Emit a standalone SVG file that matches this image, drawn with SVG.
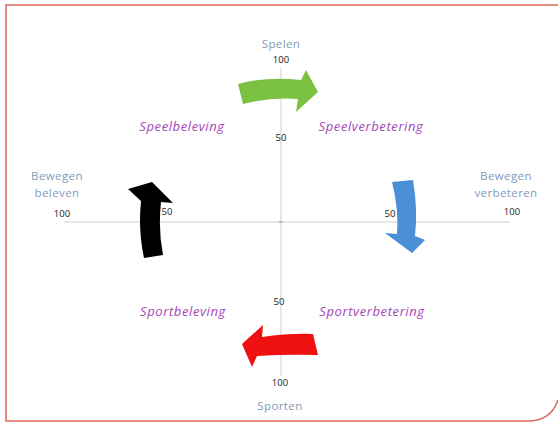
<svg xmlns="http://www.w3.org/2000/svg" width="558" height="426" viewBox="0 0 558 426">
<style>
.ax{font-family:"Open Sans","Liberation Sans",sans-serif;font-size:11.5px;letter-spacing:0.4px;fill:#7f9ab8;text-anchor:middle}
.num{font-family:"Open Sans","Liberation Sans",sans-serif;font-size:9.5px;fill:#222;text-anchor:middle}
.q{font-family:"Open Sans","Liberation Sans",sans-serif;font-size:13px;letter-spacing:0.6px;font-style:italic;fill:#a446b8;text-anchor:middle}
.axis{stroke:#cfcfcf;stroke-width:1;fill:none}
</style>
<rect width="558" height="426" fill="#fff"/>
<path d="M558,5 H6 V421 H528 Q551,421 558,400" fill="none" stroke="#e06a62" stroke-width="1.6"/>
<g id="connectors">
<line class="axis" x1="64" y1="222" x2="510" y2="222"/>
<line class="axis" x1="281" y1="68" x2="281" y2="376"/>
<line x1="279" y1="222" x2="283" y2="222" stroke="#999" stroke-width="1"/>
</g>
<g id="spelen"><text class="ax" x="281" y="48">Spelen</text><text class="num" x="281" y="63">100</text></g>
<g id="n50top"><text class="num" x="281" y="141">50</text></g>
<g id="speelbeleving"><text class="q" x="182" y="131">Speelbeleving</text></g>
<g id="speelverbetering"><text class="q" x="371" y="131">Speelverbetering</text></g>
<g id="bewegenbeleven"><text class="ax" x="57" y="180">Bewegen</text><text class="ax" x="57" y="197">beleven</text><text class="num" x="62" y="217">100</text></g>
<g id="n50left"><text class="num" x="167" y="215">50</text></g>
<g id="n50right"><text class="num" x="390" y="217">50</text></g>
<g id="bewegenverbeteren"><text class="ax" x="506" y="180">Bewegen</text><text class="ax" x="506" y="197">verbeteren</text><text class="num" x="512" y="215">100</text></g>
<g id="n50bottom"><text class="num" x="279" y="305">50</text></g>
<g id="sportbeleving"><text class="q" x="183" y="316">Sportbeleving</text></g>
<g id="sportverbetering"><text class="q" x="372" y="316">Sportverbetering</text></g>
<g id="sporten"><text class="num" x="280" y="386">100</text><text class="ax" x="280" y="410">Sporten</text></g>
<g id="arrow-green"><path d="M238,84 Q268,76 301,80 L306,70 L318,92 L296,112 L298,99 Q270,97 243,104 Z" fill="#7cc242"/></g>
<g id="arrow-black"><path d="M144,258 Q138,230 141,201 L128,189 L152,182 L173,203 L161,202 Q158,230 163,255 Z" fill="#000"/></g>
<g id="arrow-blue"><path d="M392,182 L413,180 Q418,210 415,236 L425,240 L412,253 L385,233 L397,234 Q399,210 392,182 Z" fill="#4b8fd6"/></g>
<g id="arrow-red"><path d="M313,334 Q290,333 262,337 L263,325 L242,344 L252,367 L257,356 Q288,354 318,355 Z" fill="#ee1111"/></g>
</svg>
